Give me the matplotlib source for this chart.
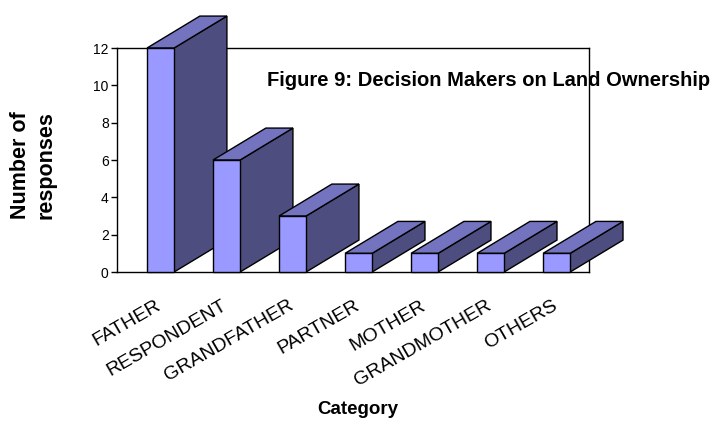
import numpy as np
import matplotlib.pyplot as plt
from matplotlib.patches import Polygon
from matplotlib.transforms import ScaledTranslation

plt.rcParams['font.family'] = ['Liberation Sans', 'DejaVu Sans']

categories = ['FATHER', 'RESPONDENT', 'GRANDFATHER', 'PARTNER',
              'MOTHER', 'GRANDMOTHER', 'OTHERS']
responses = [12, 6, 3, 1, 1, 1, 1]

front_col = '#9999FF'
top_col = '#7373BF'
side_col = '#4D4D80'

fig = plt.figure(figsize=(7.11, 4.24), dpi=100)
ax = fig.add_axes([117 / 711, 152 / 424, 472 / 711, 224 / 424])

x = np.arange(len(categories))
half_w = 0.205     # half width of the front face
depth_x = 0.80     # depth offset, x units
depth_y = 1.71     # depth offset, y units

# draw left to right so each front face sits over the previous side face
for i, (xi, h) in enumerate(zip(x, responses)):
    x0, x1 = xi - half_w, xi + half_w
    z = 3 + i
    side = Polygon([(x1, 0), (x1 + depth_x, depth_y), (x1 + depth_x, h + depth_y), (x1, h)],
                   closed=True, fc=side_col, ec='black', lw=1, zorder=z, clip_on=False)
    top = Polygon([(x0, h), (x1, h), (x1 + depth_x, h + depth_y), (x0 + depth_x, h + depth_y)],
                  closed=True, fc=top_col, ec='black', lw=1, zorder=z, clip_on=False)
    front = Polygon([(x0, 0), (x1, 0), (x1, h), (x0, h)],
                    closed=True, fc=front_col, ec='black', lw=1, zorder=z, clip_on=False)
    for p in (side, top, front):
        ax.add_patch(p)

ax.set_xlim(-0.66, 6.49)
ax.set_ylim(0, 12)
ax.set_yticks(range(0, 13, 2))
ax.tick_params(axis='y', direction='out', length=4, width=1, labelsize=10, pad=2)
ax.set_xticks(x)
ax.set_xticklabels(categories, fontsize=14)
ax.tick_params(axis='x', length=0, pad=18)
# nudge the slanted labels a little to the left
shift = ScaledTranslation(-5 / 100, 0, fig.dpi_scale_trans)
for lab in ax.get_xticklabels():
    lab.set_rotation(30)
    lab.set_ha('right')
    lab.set_va('top')
    lab.set_rotation_mode('anchor')
    lab.set_transform(lab.get_transform() + shift)

for s in ax.spines.values():
    s.set_linewidth(1)
    s.set_color('black')

ax.text(0.788, 0.855, 'Figure 9: Decision Makers on Land Ownership',
        transform=ax.transAxes, ha='center', va='center',
        fontsize=14.5, fontweight='bold', zorder=2)

fig.text(33 / 711, 1 - 165 / 424, 'Number of\nresponses', rotation=90,
         ha='center', va='center', fontsize=15.5, fontweight='bold', linespacing=1.25)
fig.text(358 / 711, 1 - 410 / 424, 'Category', ha='center', va='center',
         fontsize=13.5, fontweight='bold')

fig.savefig('out.png', dpi=100)
